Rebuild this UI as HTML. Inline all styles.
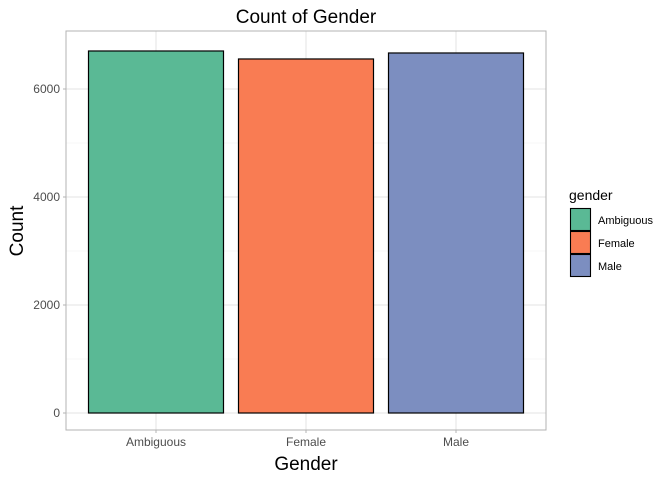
<!DOCTYPE html>
<html><head><meta charset="utf-8"><style>
body{margin:0;background:#fff}
svg text{font-family:"Liberation Sans",Arial,sans-serif}
</style></head><body>
<svg width="672" height="480" viewBox="0 0 672 480">
<g id="grid"></g><g id="bars"></g><g id="axes"></g>
<text x="306" y="23" font-size="19" text-anchor="middle" fill="#000">Count of Gender</text>
<text x="306" y="470" font-size="19" text-anchor="middle" fill="#000">Gender</text>
<text x="0" y="0" font-size="19" text-anchor="middle" fill="#000" transform="translate(23,231) rotate(-90)">Count</text>
<g id="legend">
<text x="569" y="200" font-size="14" fill="#000">gender</text>
</g>
</svg>
<script>
const categories=["Ambiguous","Female","Male"];
const counts=[6704,6556,6667];
const colors=["#5ab995","#f97c53","#7c8ec0"];
const yTicks=[0,2000,4000,6000];
const yMinor=[1000,3000,5000];
const NS="http://www.w3.org/2000/svg";
const L=66,R=546,T=31,B=430;
const y0=413,pxPer=108/2000;
const y=v=>y0-v*pxPer;
const band=(R-L)/3.2;
const xc=i=>L+(0.6+i)*band;
function mk(tag,attrs,parent){const e=document.createElementNS(NS,tag);for(const k in attrs)e.setAttribute(k,attrs[k]);document.getElementById(parent).appendChild(e);return e;}
const g="grid";
yMinor.forEach(v=>{const e=mk("line",{x1:L,x2:R,y1:y(v),y2:y(v),stroke:"#f0f0f0","stroke-width":0.6},g);

});
yTicks.forEach(v=>{const e=mk("line",{x1:L,x2:R,y1:y(v),y2:y(v),stroke:"#e3e3e3","stroke-width":1},g);


const t=mk("text",{x:L-6,y:y(v)+4,"font-size":12,"text-anchor":"end",fill:"#4d4d4d"},"axes");t.textContent=v;


const tk=mk("line",{x1:L-3,x2:L,y1:y(v),y2:y(v),stroke:"#b3b3b3"},"axes");

});
categories.forEach((c,i)=>{const e=mk("line",{x1:xc(i),x2:xc(i),y1:T,y2:B,stroke:"#e3e3e3","stroke-width":1},g);


const w=band*0.9;
const b=mk("rect",{x:xc(i)-w/2,y:y(counts[i]),width:w,height:y0-y(counts[i]),fill:colors[i],stroke:"#000","stroke-width":1.2},"bars");


const t=mk("text",{x:xc(i),y:B+16,"font-size":12,"text-anchor":"middle",fill:"#4d4d4d"},"axes");t.textContent=c;


const tk=mk("line",{x1:xc(i),x2:xc(i),y1:B,y2:B+3,stroke:"#b3b3b3"},"axes");


const k=mk("rect",{x:570.5,y:208.5+i*23,width:20,height:22,fill:colors[i],stroke:"#000","stroke-width":1.1},"legend");


const lt=mk("text",{x:598,y:224+i*23,"font-size":11,fill:"#000"},"legend");lt.textContent=c;

});
const p=mk("rect",{x:L,y:T,width:R-L,height:B-T,fill:"none",stroke:"#b3b3b3","stroke-width":1},"axes");


</script>
</body></html>
